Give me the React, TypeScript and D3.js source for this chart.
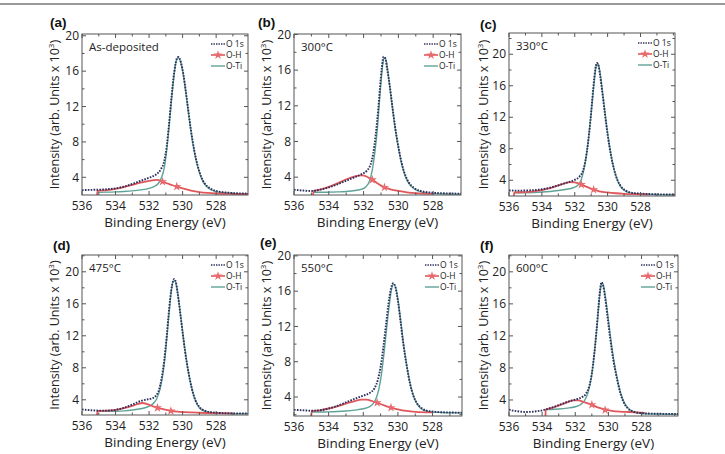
import * as React from 'react';
import * as d3 from 'd3';

type Pt = [number, number];

// tick labels and names
const xTicks = [536, 534, 532, 530, 528];
const yTicks = [4, 8, 12, 16, 20];
const panelTags = ['(a)', '(b)', '(c)', '(d)', '(e)', '(f)'];
const panelNames = ['As-deposited', '300°C', '330°C', '475°C', '550°C', '600°C'];
const legendNames = ['O 1s', 'O-H', 'O-Ti'];

// (a) as-deposited
const o1sA: Pt[] = [[536.0, 2.55], [535.5, 2.58], [535.0, 2.6], [534.5, 2.65], [534.0, 2.75], [533.5, 2.95], [533.0, 3.25], [532.5, 3.6], [532.0, 3.95], [531.6, 4.3], [531.3, 4.9], [531.1, 5.8], [530.95, 7.5], [530.8, 10.2], [530.65, 13.3], [530.5, 15.9], [530.35, 17.4], [530.25, 17.6], [530.1, 17.0], [529.95, 15.6], [529.8, 13.6], [529.65, 11.4], [529.5, 9.3], [529.3, 7.0], [529.1, 5.3], [528.9, 4.1], [528.7, 3.35], [528.4, 2.8], [528.0, 2.45], [527.5, 2.3], [527.0, 2.22], [526.5, 2.18], [526.1, 2.15]];
const otiA: Pt[] = [[535.1, 2.3], [534.5, 2.32], [534.0, 2.35], [533.5, 2.4], [533.0, 2.47], [532.5, 2.58], [532.0, 2.75], [531.7, 2.95], [531.45, 3.3], [531.25, 4.0], [531.1, 5.0], [530.95, 7.0], [530.8, 9.9], [530.65, 13.0], [530.5, 15.7], [530.35, 17.3], [530.25, 17.5], [530.1, 16.9], [529.95, 15.5], [529.8, 13.5], [529.65, 11.3], [529.5, 9.2], [529.3, 6.9], [529.1, 5.2], [528.9, 4.0], [528.7, 3.25], [528.4, 2.7], [528.0, 2.38], [527.5, 2.25], [527.0, 2.18], [526.5, 2.14], [526.1, 2.12]];
const ohA: Pt[] = [[535.1, 2.0], [535.08, 2.45], [534.5, 2.55], [534.0, 2.7], [533.5, 2.9], [533.0, 3.15], [532.5, 3.4], [532.0, 3.6], [531.5, 3.7], [531.2, 3.5], [530.9, 3.3], [530.6, 3.1], [530.35, 2.95], [530.0, 2.75], [529.5, 2.5], [529.0, 2.33], [528.5, 2.23], [528.0, 2.17], [527.0, 2.12], [526.1, 2.1]];
const starsA: Pt[] = [[531.2, 3.5], [530.35, 2.95]];

// (b) 300°C
const o1sB: Pt[] = [[536.0, 2.6], [535.5, 2.5], [535.0, 2.45], [534.5, 2.6], [534.0, 2.85], [533.5, 3.2], [533.0, 3.6], [532.5, 4.0], [532.1, 4.35], [531.8, 4.75], [531.6, 5.4], [531.45, 6.6], [531.3, 8.8], [531.15, 11.8], [531.05, 14.2], [530.95, 16.3], [530.85, 17.5], [530.75, 17.3], [530.65, 16.2], [530.5, 14.3], [530.35, 12.0], [530.2, 9.8], [530.0, 7.4], [529.8, 5.5], [529.6, 4.2], [529.4, 3.4], [529.1, 2.8], [528.6, 2.4], [528.0, 2.25], [527.5, 2.2], [527.0, 2.17], [526.4, 2.15]];
const otiB: Pt[] = [[534.9, 2.3], [534.5, 2.3], [534.0, 2.32], [533.5, 2.35], [533.0, 2.4], [532.5, 2.5], [532.1, 2.65], [531.85, 2.95], [531.65, 3.6], [531.5, 4.8], [531.35, 6.8], [531.2, 9.6], [531.1, 12.2], [531.0, 14.6], [530.9, 16.6], [530.82, 17.4], [530.72, 17.2], [530.62, 16.1], [530.5, 14.2], [530.35, 11.9], [530.2, 9.7], [530.0, 7.3], [529.8, 5.4], [529.6, 4.1], [529.4, 3.3], [529.1, 2.7], [528.6, 2.3], [528.0, 2.15], [527.0, 2.1], [526.4, 2.08]];
const ohB: Pt[] = [[534.9, 2.0], [534.88, 2.45], [534.5, 2.6], [534.0, 2.9], [533.5, 3.3], [533.0, 3.75], [532.5, 4.1], [532.1, 4.2], [531.8, 4.05], [531.5, 3.7], [531.2, 3.3], [530.8, 2.85], [530.4, 2.6], [530.0, 2.45], [529.5, 2.3], [529.0, 2.2], [528.0, 2.12]];
const starsB: Pt[] = [[531.5, 3.7], [530.8, 2.85]];

// (c) 330°C
const o1sC: Pt[] = [[536.0, 2.7], [535.5, 2.68], [535.0, 2.7], [534.5, 2.75], [534.0, 2.85], [533.5, 3.05], [533.0, 3.35], [532.5, 3.7], [532.0, 4.05], [531.7, 4.5], [531.5, 5.2], [531.35, 6.5], [531.2, 8.6], [531.05, 11.5], [530.95, 13.9], [530.85, 16.2], [530.75, 18.1], [530.65, 18.9], [530.55, 18.5], [530.45, 17.2], [530.3, 14.8], [530.15, 12.2], [530.0, 9.8], [529.8, 7.2], [529.6, 5.3], [529.4, 4.0], [529.2, 3.25], [528.9, 2.7], [528.5, 2.4], [528.0, 2.3], [527.5, 2.25], [527.0, 2.22], [526.5, 2.2], [525.9, 2.18]];
const otiC: Pt[] = [[535.7, 2.4], [535.0, 2.42], [534.5, 2.45], [534.0, 2.5], [533.5, 2.58], [533.0, 2.7], [532.5, 2.85], [532.1, 3.05], [531.8, 3.4], [531.6, 4.1], [531.45, 5.3], [531.3, 7.0], [531.15, 9.5], [531.0, 12.5], [530.9, 14.7], [530.8, 16.8], [530.7, 18.4], [530.62, 18.8], [530.52, 18.4], [530.42, 17.1], [530.28, 14.7], [530.13, 12.1], [529.98, 9.7], [529.78, 7.1], [529.58, 5.2], [529.38, 3.9], [529.18, 3.1], [528.9, 2.6], [528.5, 2.35], [528.0, 2.25], [527.0, 2.18], [525.9, 2.15]];
const ohC: Pt[] = [[535.7, 2.0], [535.68, 2.45], [535.0, 2.5], [534.5, 2.6], [534.0, 2.75], [533.5, 3.0], [533.0, 3.35], [532.6, 3.6], [532.3, 3.75], [532.0, 3.72], [531.6, 3.45], [531.2, 3.1], [530.85, 2.8], [530.5, 2.6], [530.0, 2.45], [529.5, 2.35], [529.0, 2.28], [528.0, 2.22], [527.5, 2.2]];
const starsC: Pt[] = [[531.6, 3.45], [530.85, 2.8]];

// (d) 475°C
const o1sD: Pt[] = [[536.0, 2.8], [535.5, 2.7], [535.0, 2.65], [534.5, 2.65], [534.0, 2.75], [533.5, 3.0], [533.0, 3.4], [532.5, 3.85], [532.1, 4.05], [531.8, 4.2], [531.6, 4.5], [531.4, 5.3], [531.25, 6.7], [531.1, 8.9], [530.95, 11.9], [530.85, 14.3], [530.75, 16.5], [530.62, 18.4], [530.5, 19.1], [530.4, 18.7], [530.3, 17.4], [530.15, 15.0], [530.0, 12.4], [529.85, 10.0], [529.65, 7.4], [529.45, 5.4], [529.25, 4.0], [529.0, 3.1], [528.7, 2.65], [528.3, 2.45], [527.8, 2.35], [527.0, 2.3], [526.1, 2.28]];
const otiD: Pt[] = [[535.1, 2.55], [534.5, 2.55], [534.0, 2.57], [533.5, 2.62], [533.0, 2.72], [532.5, 2.88], [532.1, 3.1], [531.8, 3.45], [531.55, 4.1], [531.35, 5.3], [531.2, 6.9], [531.05, 9.3], [530.92, 12.2], [530.8, 15.0], [530.68, 17.5], [530.57, 18.8], [530.47, 18.9], [530.37, 18.3], [530.25, 16.7], [530.1, 14.2], [529.95, 11.7], [529.8, 9.4], [529.6, 6.9], [529.4, 5.0], [529.2, 3.75], [529.0, 3.0], [528.7, 2.6], [528.3, 2.4], [527.5, 2.3], [526.1, 2.27]];
const ohD: Pt[] = [[535.1, 2.1], [535.08, 2.6], [534.5, 2.65], [534.0, 2.75], [533.5, 2.95], [533.0, 3.25], [532.7, 3.45], [532.4, 3.6], [532.1, 3.45], [531.8, 3.2], [531.5, 3.0], [531.1, 2.8], [530.7, 2.6], [530.2, 2.5], [529.5, 2.42], [529.0, 2.38], [528.0, 2.33], [527.0, 2.3]];
const starsD: Pt[] = [[531.5, 3.0], [530.7, 2.6]];

// (e) 550°C
const o1sE: Pt[] = [[536.0, 2.55], [535.5, 2.5], [535.0, 2.45], [534.5, 2.5], [534.0, 2.7], [533.5, 3.0], [533.0, 3.4], [532.5, 3.8], [532.0, 4.15], [531.6, 4.5], [531.35, 5.0], [531.15, 6.0], [531.0, 7.4], [530.85, 9.5], [530.7, 12.0], [530.55, 14.5], [530.4, 16.3], [530.27, 16.9], [530.15, 16.5], [530.0, 14.9], [529.85, 12.6], [529.7, 10.2], [529.5, 7.6], [529.3, 5.5], [529.1, 4.1], [528.9, 3.3], [528.6, 2.7], [528.2, 2.4], [527.7, 2.3], [527.0, 2.25], [526.3, 2.22]];
const otiE: Pt[] = [[535.0, 2.3], [534.5, 2.3], [534.0, 2.32], [533.5, 2.36], [533.0, 2.42], [532.5, 2.52], [532.0, 2.67], [531.7, 2.85], [531.45, 3.2], [531.25, 3.9], [531.1, 4.9], [530.95, 6.6], [530.8, 9.0], [530.65, 11.8], [530.5, 14.4], [530.37, 16.2], [530.25, 16.8], [530.13, 16.4], [529.98, 14.8], [529.83, 12.5], [529.68, 10.1], [529.48, 7.5], [529.28, 5.4], [529.08, 4.0], [528.88, 3.2], [528.6, 2.6], [528.2, 2.35], [527.5, 2.25], [526.3, 2.2]];
const ohE: Pt[] = [[535.0, 1.85], [534.98, 2.4], [534.5, 2.5], [534.0, 2.7], [533.5, 2.95], [533.0, 3.25], [532.5, 3.55], [532.1, 3.7], [531.8, 3.7], [531.5, 3.55], [531.2, 3.35], [530.8, 3.05], [530.4, 2.8], [530.0, 2.6], [529.5, 2.42], [529.0, 2.32], [528.0, 2.25]];
const starsE: Pt[] = [[531.2, 3.35], [530.4, 2.8]];

// (f) 600°C
const o1sF: Pt[] = [[536.0, 2.8], [535.7, 2.65], [535.3, 2.55], [535.0, 2.5], [534.5, 2.55], [534.0, 2.7], [533.5, 3.0], [533.0, 3.35], [532.5, 3.75], [532.0, 4.05], [531.6, 4.35], [531.35, 4.8], [531.15, 5.8], [531.0, 7.3], [530.85, 9.8], [530.72, 12.6], [530.6, 15.6], [530.5, 17.8], [530.42, 18.7], [530.32, 18.3], [530.2, 16.8], [530.05, 14.3], [529.9, 11.8], [529.72, 9.2], [529.5, 6.8], [529.3, 5.0], [529.1, 3.8], [528.85, 3.0], [528.5, 2.55], [528.0, 2.35], [527.5, 2.3], [527.0, 2.28], [525.8, 2.25]];
const otiF: Pt[] = [[533.8, 2.8], [533.5, 2.82], [533.0, 2.88], [532.5, 2.98], [532.0, 3.15], [531.7, 3.4], [531.45, 3.9], [531.25, 4.8], [531.1, 6.0], [530.95, 8.0], [530.8, 10.8], [530.67, 13.7], [530.55, 16.5], [530.45, 18.2], [530.37, 18.6], [530.27, 18.0], [530.15, 16.4], [530.0, 14.0], [529.85, 11.5], [529.67, 8.9], [529.45, 6.5], [529.25, 4.8], [529.05, 3.7], [528.8, 2.95], [528.45, 2.5], [528.0, 2.32], [527.0, 2.25], [525.8, 2.22]];
const ohF: Pt[] = [[533.8, 2.0], [533.78, 2.8], [533.5, 2.95], [533.0, 3.3], [532.5, 3.7], [532.1, 3.95], [531.8, 3.95], [531.5, 3.75], [531.0, 3.4], [530.6, 3.05], [530.2, 2.8], [529.8, 2.65], [529.3, 2.55], [528.8, 2.5], [528.3, 2.45], [527.8, 2.4]];
const starsF: Pt[] = [[531.0, 3.4], [530.2, 2.75]];

const o1sAll = [o1sA, o1sB, o1sC, o1sD, o1sE, o1sF];
const otiAll = [otiA, otiB, otiC, otiD, otiE, otiF];
const ohAll = [ohA, ohB, ohC, ohD, ohE, ohF];
const starsAll = [starsA, starsB, starsC, starsD, starsE, starsF];

// layout of each panel box and axis ranges
const boxes = [
  { l: 82, r: 248, t: 34, b: 195, x0: 536, x1: 526.1, y0: 2, y1: 20.2, tag: [50, 27], yl: 55 },
  { l: 294, r: 461, t: 34, b: 195, x0: 536, x1: 526.4, y0: 2, y1: 20.05, tag: [258, 27], yl: 267 },
  { l: 509, r: 675, t: 33, b: 196, x0: 536, x1: 525.9, y0: 2, y1: 22.7, tag: [480, 29], yl: 484 },
  { l: 82, r: 248, t: 255, b: 415, x0: 536, x1: 526.1, y0: 2.1, y1: 22.1, tag: [53, 250], yl: 55 },
  { l: 294, r: 462, t: 255, b: 416, x0: 536, x1: 526.3, y0: 1.85, y1: 20.1, tag: [260, 247], yl: 267 },
  { l: 509, r: 678, t: 255, b: 416, x0: 536, x1: 525.8, y0: 2.0, y1: 22.1, tag: [480, 250], yl: 484 },
];

const C_O1S = '#2c2f5e';
const C_OH = '#e0575b';
const C_OTI = '#5fa397';
const FRAME = '#555';
const FONT = '"Open Sans", "Noto Sans", sans-serif';

function Panel({ i }: { i: number }) {
  const bx = boxes[i];
  const x = d3.scaleLinear().domain([bx.x0, bx.x1]).range([bx.l, bx.r]);
  const y = d3.scaleLinear().domain([bx.y0, bx.y1]).range([bx.b, bx.t]);
  const line = d3.line<Pt>().x(d => x(d[0])).y(d => y(d[1])).curve(d3.curveMonotoneX);
  const star = d3.symbol().type(d3.symbolStar).size(26)();
  const clipId = `clip${i}`;
  const minorX = d3.range(536, bx.x1, -1);
  const minorY = d3.range(2, bx.y1, 2).filter(v => v > bx.y0);
  const tickY = bx.b + 15;
  const titleY = bx.b + 32;
  const lgX = bx.r - 37;
  const lgY = bx.t + 10;

  return (
    <g>
      <defs>
        <clipPath id={clipId}>
          <rect x={bx.l} y={bx.t} width={bx.r - bx.l} height={bx.b - bx.t} />
        </clipPath>
      </defs>
      <text x={bx.tag[0]} y={bx.tag[1]} fontFamily='"Liberation Sans", Arial, sans-serif' fontWeight="bold" fontSize={13.5} fill="#111">{panelTags[i]}</text>

      <g clipPath={`url(#${clipId})`}>
        <path d={line(otiAll[i]) || ''} fill="none" stroke={C_OTI} strokeWidth={1.4} />
        <path d={line(ohAll[i]) || ''} fill="none" stroke={C_OH} strokeWidth={1.8} />
        {starsAll[i].map((s, k) => (
          <path key={k} d={star || ''} transform={`translate(${x(s[0])},${y(s[1])})`} fill="#e86a6e" />
        ))}
        <path d={line(o1sAll[i]) || ''} fill="none" stroke={C_O1S} strokeWidth={1.9} strokeDasharray="1.6 1.3" />
      </g>

      {/* frame and ticks */}
      <rect x={bx.l} y={bx.t} width={bx.r - bx.l} height={bx.b - bx.t} fill="none" stroke={FRAME} strokeWidth={1} />
      {minorX.map(v => {
        const len = xTicks.includes(v) ? 4 : 2.5;
        return (
          <g key={'x' + v}>
            <line x1={x(v)} x2={x(v)} y1={bx.b} y2={bx.b - len} stroke={FRAME} />
            <line x1={x(v)} x2={x(v)} y1={bx.t} y2={bx.t + len} stroke={FRAME} />
          </g>
        );
      })}
      {minorY.map(v => {
        const len = yTicks.includes(v) ? 4 : 2.5;
        return (
          <g key={'y' + v}>
            <line x1={bx.l} x2={bx.l + len} y1={y(v)} y2={y(v)} stroke={FRAME} />
            <line x1={bx.r} x2={bx.r - len} y1={y(v)} y2={y(v)} stroke={FRAME} />
          </g>
        );
      })}

      {xTicks.map(v => (
        <text key={'xl' + v} x={x(v)} y={tickY} textAnchor="middle" fontFamily={FONT} fontSize={12} fill="#222">{v}</text>
      ))}
      {yTicks.map(v => (
        <text key={'yl' + v} x={bx.l - 3} y={y(v)} dy="0.35em" textAnchor="end" fontFamily={FONT} fontSize={12} fill="#222">{v}</text>
      ))}

      <text x={(bx.l + bx.r) / 2} y={titleY} textAnchor="middle" fontFamily={FONT} fontSize={13.5} fill="#222">Binding Energy (eV)</text>
      <text transform={`translate(${bx.yl},${(bx.t + bx.b) / 2}) rotate(-90)`} dy="0.35em" textAnchor="middle" fontFamily={FONT} fontSize={12.5} fill="#222">
        Intensity (arb. Units x 10<tspan dy="-5" fontSize={8}>3</tspan><tspan dy="5">)</tspan>
      </text>

      <text x={bx.l + 7} y={bx.t + 17} fontFamily={FONT} fontSize={11.5} fill="#222">{panelNames[i]}</text>

      {/* legend */}
      {legendNames.map((name, k) => {
        const ly = lgY + k * 11;
        return (
          <g key={name}>
            {k === 0 && <line x1={lgX} x2={lgX + 14} y1={ly} y2={ly} stroke={C_O1S} strokeWidth={1.6} strokeDasharray="1.4 1.1" />}
            {k === 1 && <line x1={lgX} x2={lgX + 14} y1={ly} y2={ly} stroke={C_OH} strokeWidth={1.6} />}
            {k === 1 && <path d={star || ''} transform={`translate(${lgX + 7},${ly})`} fill="#e86a6e" />}
            {k === 2 && <line x1={lgX} x2={lgX + 14} y1={ly} y2={ly} stroke={C_OTI} strokeWidth={1.4} />}
            <text x={lgX + 15} y={ly} dy="0.33em" fontFamily={FONT} fontSize={8.5} fill="#222">{name}</text>
          </g>
        );
      })}
    </g>
  );
}

export default function App() {
  return (
    <svg width={725} height={454} style={{ position: 'absolute', left: 0, top: 0, background: '#fff' }}>
      <rect x={0} y={0} width={725} height={454} fill="#fff" />
      <line x1={0} x2={725} y1={4} y2={4} stroke="#999" strokeWidth={2} />
      {boxes.map((_, i) => <Panel key={i} i={i} />)}
    </svg>
  );
}
